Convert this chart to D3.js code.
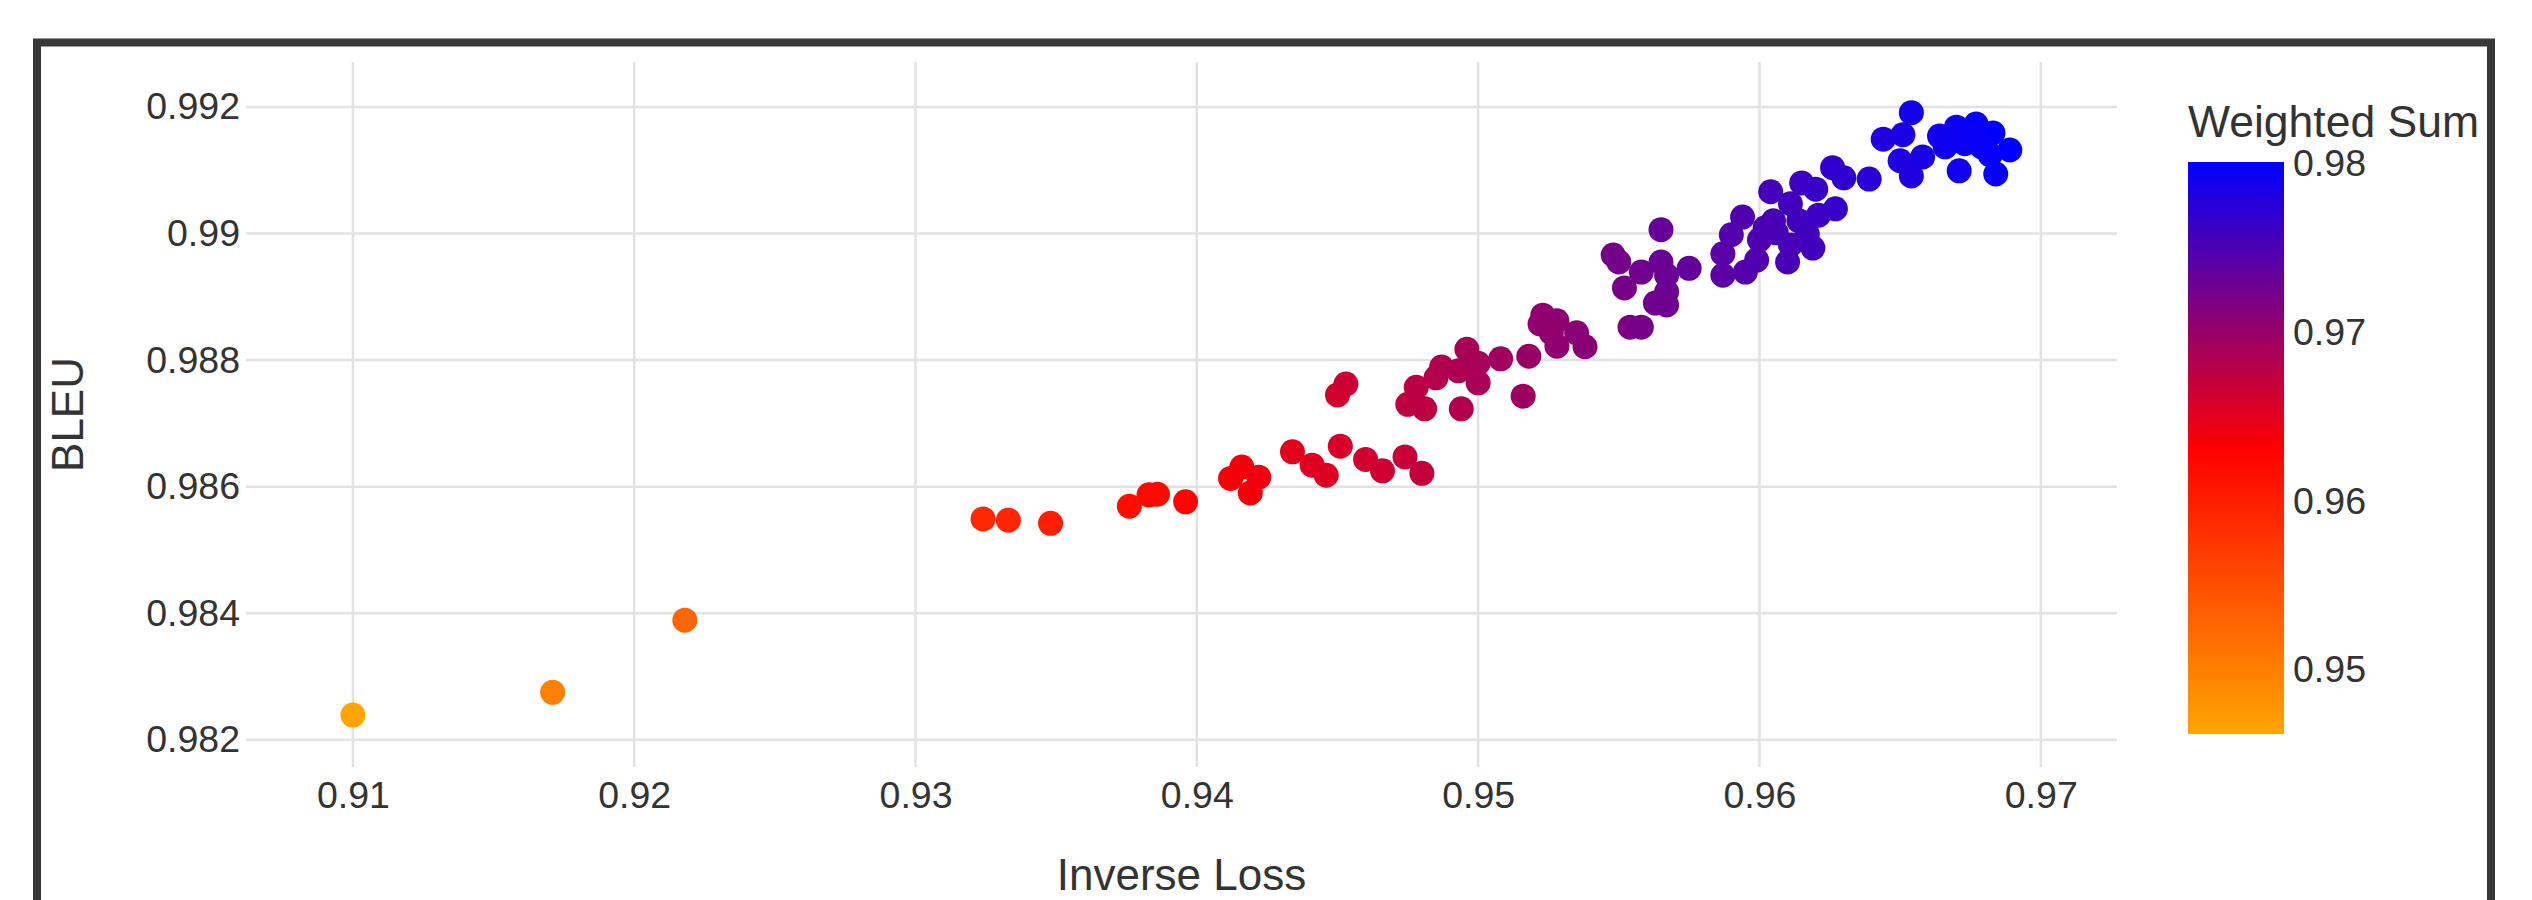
<!DOCTYPE html>
<html>
<head>
<meta charset="utf-8">
<script src="https://cdn.jsdelivr.net/npm/d3@7"></script>
<style>
  body { margin: 0; background: #fff; }
  svg { display: block; font-family: "Liberation Sans", Arial, sans-serif; }
</style>
</head>
<body>
<div id="plot-container"></div>
<script>
// Inverse Loss (x) for every run
const inverseLoss = [
  0.9100, 0.9171, 0.9218, 0.9324, 0.9333, 0.9348, 0.9376, 0.9383, 0.9386, 0.9396,
  0.9412, 0.9416, 0.9422, 0.9419, 0.9434, 0.9441, 0.9446, 0.9451, 0.9460, 0.9466,
  0.9474, 0.9480, 0.9450, 0.9453, 0.9475, 0.9481, 0.9478, 0.9485, 0.9487, 0.9493,
  0.9496, 0.9500, 0.9500, 0.9494, 0.9508, 0.9518, 0.9516, 0.9523, 0.9522, 0.9528,
  0.9526, 0.9528, 0.9535, 0.9538, 0.9548, 0.9550, 0.9552, 0.9554, 0.9558, 0.9558,
  0.9565, 0.9565, 0.9567, 0.9567, 0.9563, 0.9567, 0.9575, 0.9587, 0.9595, 0.9599,
  0.9587, 0.9590, 0.9594, 0.9604, 0.9611, 0.9615, 0.9620, 0.9627, 0.9619, 0.9610,
  0.9606, 0.9605, 0.9614, 0.9617, 0.9600, 0.9611, 0.9621, 0.9602, 0.9626, 0.9630,
  0.9639, 0.9644, 0.9651, 0.9654, 0.9650, 0.9654, 0.9658, 0.9664, 0.9670, 0.9677,
  0.9683, 0.9689, 0.9684, 0.9671, 0.9666, 0.9673, 0.9679, 0.9669, 0.9676, 0.9682
];

// BLEU (y) for every run
const bleu = [
  0.98239, 0.98275, 0.98389, 0.98549, 0.98547, 0.98542, 0.98569, 0.98587, 0.98588, 0.98576,
  0.98613, 0.98631, 0.98615, 0.98590, 0.98655, 0.98634, 0.98618, 0.98664, 0.98643, 0.98625,
  0.98647, 0.98621, 0.98745, 0.98762, 0.98730, 0.98723, 0.98757, 0.98772, 0.98789, 0.98783,
  0.98817, 0.98795, 0.98764, 0.98723, 0.98802, 0.98806, 0.98743, 0.98871, 0.98857, 0.98862,
  0.98843, 0.98822, 0.98843, 0.98821, 0.98966, 0.98955, 0.98914, 0.98852, 0.98852, 0.98939,
  0.99006, 0.98955, 0.98934, 0.98908, 0.98890, 0.98887, 0.98945, 0.98934, 0.98939, 0.98958,
  0.98968, 0.98998, 0.99026, 0.99066, 0.99047, 0.99080, 0.99070, 0.99039, 0.98977, 0.98955,
  0.99001, 0.99020, 0.99020, 0.98999, 0.98990, 0.98982, 0.99029, 0.99009, 0.99104, 0.99088,
  0.99086, 0.99149, 0.99156, 0.99191, 0.99115, 0.99091, 0.99121, 0.99154, 0.99168, 0.99173,
  0.99159, 0.99132, 0.99094, 0.99099, 0.99137, 0.99142, 0.99137, 0.99148, 0.99156, 0.99124
];

// Weighted Sum (colour) for every run
const weightedSum = [
  0.9462, 0.9499, 0.9528, 0.9589, 0.9594, 0.9601, 0.9617, 0.9621, 0.9622, 0.9627,
  0.9637, 0.9639, 0.9642, 0.9639, 0.9650, 0.9652, 0.9654, 0.9659, 0.9662, 0.9664,
  0.9669, 0.9671, 0.9662, 0.9665, 0.9674, 0.9676, 0.9677, 0.9681, 0.9683, 0.9686,
  0.9689, 0.9690, 0.9688, 0.9683, 0.9694, 0.9699, 0.9695, 0.9705, 0.9704, 0.9707,
  0.9705, 0.9705, 0.9710, 0.9710, 0.9722, 0.9723, 0.9722, 0.9719, 0.9722, 0.9726,
  0.9733, 0.9730, 0.9730, 0.9729, 0.9726, 0.9728, 0.9735, 0.9740, 0.9745, 0.9748,
  0.9742, 0.9745, 0.9748, 0.9755, 0.9758, 0.9761, 0.9764, 0.9766, 0.9758, 0.9753,
  0.9753, 0.9753, 0.9758, 0.9758, 0.9749, 0.9754, 0.9762, 0.9751, 0.9768, 0.9769,
  0.9774, 0.9780, 0.9783, 0.9787, 0.9781, 0.9781, 0.9785, 0.9790, 0.9794, 0.9797,
  0.9800, 0.9801, 0.9797, 0.9790, 0.9790, 0.9793, 0.9796, 0.9792, 0.9796, 0.9797
];

// Tick labels
const xTicks = [0.91, 0.92, 0.93, 0.94, 0.95, 0.96, 0.97];
const yTicks = [0.982, 0.984, 0.986, 0.988, 0.99, 0.992];
const colorTicks = [0.95, 0.96, 0.97, 0.98];

const data = inverseLoss.map((x, i) => ({ x: x, y: bleu[i], w: weightedSum[i] }));

const width = 2532;
const height = 900;
const plot = { left: 246, right: 2117, top: 62, bottom: 767 };
const textColor = "#333";
const gridColor = "#e2e2e2";

const svg = d3.select("#plot-container")
  .append("svg")
  .attr("width", width)
  .attr("height", height);

svg.append("rect")
  .attr("width", width)
  .attr("height", height)
  .attr("fill", "#fff");

// Scales
const x = d3.scaleLinear().domain([0.90620, 0.97271]).range([plot.left, plot.right]);
const y = d3.scaleLinear().domain([0.98157, 0.99271]).range([plot.bottom, plot.top]);

const cMin = 0.9462, cMax = 0.9801;
const color = d3.scaleLinear()
  .domain([cMin, (cMin + cMax) / 2, cMax])
  .range(["orange", "red", "blue"])
  .interpolate(d3.interpolateRgb);

// Grid lines
svg.append("g")
  .selectAll("line")
  .data(xTicks)
  .join("line")
  .attr("x1", d => x(d)).attr("x2", d => x(d))
  .attr("y1", plot.top).attr("y2", plot.bottom)
  .attr("stroke", gridColor)
  .attr("stroke-width", 2.5);

svg.append("g")
  .selectAll("line")
  .data(yTicks)
  .join("line")
  .attr("x1", plot.left).attr("x2", plot.right)
  .attr("y1", d => y(d)).attr("y2", d => y(d))
  .attr("stroke", gridColor)
  .attr("stroke-width", 2.5);

// Axes (labels only)
const xAxis = svg.append("g")
  .attr("transform", `translate(0,${plot.bottom})`)
  .call(d3.axisBottom(x).tickValues(xTicks).tickSize(0).tickPadding(14).tickFormat(d3.format("")));

const yAxis = svg.append("g")
  .attr("transform", `translate(${plot.left},0)`)
  .call(d3.axisLeft(y).tickValues(yTicks).tickSize(0).tickPadding(6).tickFormat(d3.format("")));

[xAxis, yAxis].forEach(g => {
  g.select(".domain").remove();
  g.selectAll("text")
    .attr("fill", textColor)
    .style("font-size", "37.5px")
    .style("font-family", "'Liberation Sans', Arial, sans-serif");
});

// Points
svg.append("g")
  .selectAll("circle")
  .data(data)
  .join("circle")
  .attr("cx", d => x(d.x))
  .attr("cy", d => y(d.y))
  .attr("r", 12.5)
  .attr("fill", d => color(d.w));

// Axis titles
svg.append("text")
  .attr("x", (plot.left + plot.right) / 2)
  .attr("y", 890)
  .attr("text-anchor", "middle")
  .attr("fill", textColor)
  .style("font-size", "44px")
  .text("Inverse Loss");

svg.append("text")
  .attr("transform", `translate(83,${(plot.top + plot.bottom) / 2}) rotate(-90)`)
  .attr("text-anchor", "middle")
  .attr("fill", textColor)
  .style("font-size", "44px")
  .text("BLEU");

// Colour bar
const bar = { x: 2188, width: 96, top: 162, bottom: 734 };
const cScale = d3.scaleLinear().domain([cMin, cMax]).range([bar.bottom, bar.top]);

const grad = svg.append("defs")
  .append("linearGradient")
  .attr("id", "cbar")
  .attr("x1", 0).attr("y1", 1).attr("x2", 0).attr("y2", 0);

grad.selectAll("stop")
  .data(d3.range(0, 1.0001, 0.05))
  .join("stop")
  .attr("offset", d => d)
  .attr("stop-color", d => color(cMin + d * (cMax - cMin)));

svg.append("rect")
  .attr("x", bar.x)
  .attr("y", bar.top)
  .attr("width", bar.width)
  .attr("height", bar.bottom - bar.top)
  .attr("fill", "url(#cbar)");

const cAxis = svg.append("g")
  .attr("transform", `translate(${bar.x + bar.width},0)`)
  .call(d3.axisRight(cScale).tickValues(colorTicks).tickSize(0).tickPadding(9).tickFormat(d3.format("")));
cAxis.select(".domain").remove();
cAxis.selectAll("text")
  .attr("fill", textColor)
  .style("font-size", "37.5px")
  .style("font-family", "'Liberation Sans', Arial, sans-serif");

svg.append("text")
  .attr("x", bar.x)
  .attr("y", 137)
  .attr("fill", textColor)
  .style("font-size", "44.5px")
  .text("Weighted Sum");

// Dark frame round the figure (runs off the bottom edge)
svg.append("rect")
  .attr("x", 37)
  .attr("y", 42.5)
  .attr("width", 2454)
  .attr("height", 1000)
  .attr("fill", "none")
  .attr("stroke", "#383838")
  .attr("stroke-width", 8);
</script>
</body>
</html>
